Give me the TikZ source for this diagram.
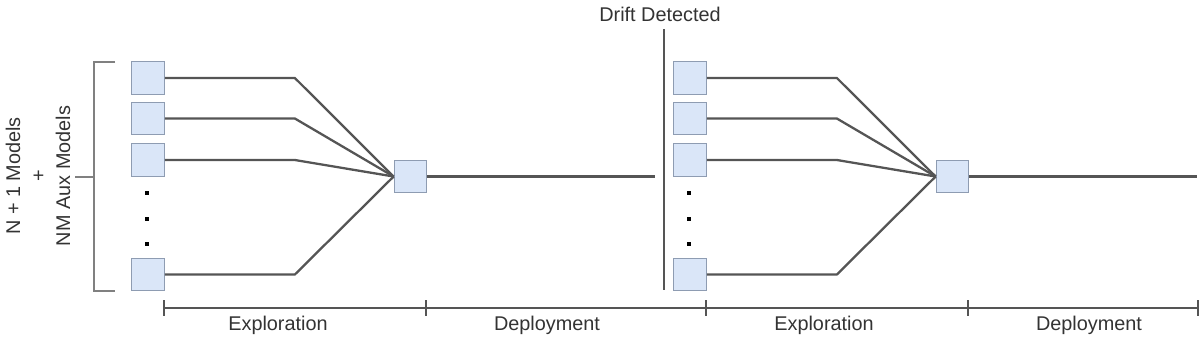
\documentclass[tikz,border=0pt]{standalone}
\usepackage{fontspec}
\setmainfont{Liberation Sans}
\usepackage{xcolor}
\definecolor{boxfill}{HTML}{DAE6F8}
\definecolor{boxline}{HTML}{8E9CB2}
\definecolor{wiregray}{HTML}{555555}
\definecolor{labelgray}{HTML}{333333}

\begin{document}
\begin{tikzpicture}[x=0.02cm, y=-0.02cm, line width=1.3pt,
  model/.style={draw=boxline, fill=boxfill, line width=0.7pt, minimum size=0.65cm, inner sep=0pt},
  wire/.style={draw=wiregray},
  brace/.style={draw=gray, line width=0.9pt},
  dot/.style={fill=black, inner sep=0pt, minimum size=2.5pt},
  lbl/.style={text=labelgray, font=\fontsize{11.3}{14.2}\selectfont}
]
  \useasboundingbox (0,0) rectangle (1200,336);

  % model bank, exploration fan-in, deployment line
  \foreach \s/\dx in {a/0, b/542} {
    \node[model] (\s1) at (148+\dx,78) {};
    \node[model] (\s2) at (148+\dx,118.5) {};
    \node[model] (\s3) at (148+\dx,160) {};
    \node[model] (\s4) at (148+\dx,274.5) {};
    \node[dot] at (147+\dx,193) {};
    \node[dot] at (147+\dx,219) {};
    \node[dot] at (147+\dx,244) {};
    \node[model] (\s m) at (410.5+\dx,176.5) {};
    \coordinate (\s end) at (655+\dx,176.5);
    \foreach \i in {1,2,3,4}
      \draw[wire] (\s\i.east) -- ++(130,0) -- (\s m.west);
    \draw[wire] (\s m.east) -- (\s end);
  }

  % drift marker
  \node[lbl] (drift) at (660,14) {Drift Detected};
  \coordinate (dtop) at (664,29);
  \coordinate (dbot) at (664,290);
  \draw[wire] (dtop) -- (dbot);

  % bracket and its label
  \node[lbl, rotate=90, align=center] (models) at (38,176) {N + 1 Models\\+\\NM Aux Models};
  \draw[brace] (115,62) -- (94,62) -- (94,291) -- (115,291);
  \draw[brace] (94,177) -- (75,177);

  % timeline
  \coordinate (t0) at (164,308);
  \coordinate (t1) at (426,308);
  \coordinate (t2) at (706,308);
  \coordinate (t3) at (968,308);
  \coordinate (t4) at (1198,308);
  \draw[wire] (t0) -- (t4);
  \foreach \t in {t0,t1,t2,t3,t4}
    \draw[wire] (\t) ++(0,-8) -- ++(0,16);
  \node[lbl] (explA) at (278,325) {Exploration};
  \node[lbl] (deplA) at (547,325) {Deployment};
  \node[lbl] (explB) at (824,325) {Exploration};
  \node[lbl] (deplB) at (1089,325) {Deployment};
\end{tikzpicture}
\end{document}
